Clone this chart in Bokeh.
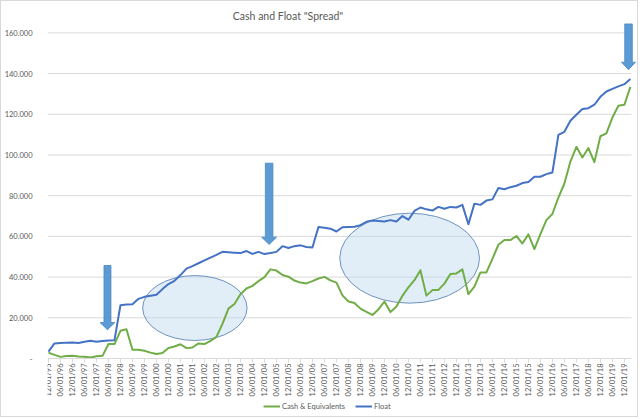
from math import pi
from bokeh.plotting import figure
from bokeh.models import Range1d, FixedTicker, LinearAxis, Legend, LegendItem, Label
from bokeh.embed import file_html
from bokeh.resources import INLINE

# ---- categories: quarterly dates from 12/01/95 to 03/01/20 ----
CATEGORIES = []
for k in range(98):
    mi = 11 + 3 * k
    CATEGORIES.append(f"{mi % 12 + 1:02d}/01/{(1995 + mi // 12) % 100:02d}")
X_IDX = list(range(len(CATEGORIES)))
LABEL_IDX = list(range(0, 97, 2))  # every other category is labelled

# ---- series (millions) ----
CASH = [2900, 1800, 800, 1200, 1400, 1000, 900, 500, 1100, 1300,
        7100, 7100, 13600, 14400, 4300, 4300, 3800, 2900, 2200, 2700,
        5200, 5900, 7000, 5100, 5400, 7400, 7100, 8700, 10600, 17000,
        24500, 26800, 31600, 34400, 35700, 38000, 40000, 43800, 43200, 41000,
        40200, 38300, 37300, 36900, 38000, 39300, 40100, 38400, 37300, 31000,
        28000, 27300, 24500, 22900, 21400, 24100, 28000, 22800, 25600, 30800,
        35000, 38500, 43400, 30900, 33600, 33700, 36800, 41500, 41800, 43800,
        31600, 35300, 42300, 42300, 49000, 55900, 58200, 58200, 60200, 56500,
        61000, 53800, 61100, 68000, 71000, 79100, 86000, 96800, 104000, 98800,
        103400, 96500, 109200, 110600, 118400, 124200, 124700, 133500]
FLOAT = [3400, 7400, 7600, 7800, 7900, 7600, 8200, 8700, 8200, 8600,
         8900, 9000, 26200, 26500, 26700, 29300, 30300, 30800, 31300, 34100,
         36600, 38200, 41000, 44200, 45400, 46800, 48200, 49600, 50900, 52400,
         52200, 52000, 51800, 52800, 51400, 52400, 51300, 51800, 52400, 55200,
         54300, 55200, 55600, 54800, 54500, 64600, 64200, 63800, 62400, 64500,
         64600, 64700, 65500, 67200, 67800, 67600, 67300, 68000, 67300, 70000,
         68200, 72500, 74200, 73300, 72700, 74500, 73600, 74500, 74200, 75500,
         66000, 76100, 75500, 77600, 78200, 83800, 83200, 84200, 84900, 86200,
         86700, 89300, 89300, 90600, 91400, 109900, 111400, 116800, 119800, 122600,
         123000, 124700, 128600, 131200, 132500, 133700, 134800, 137300]
Y_TICKS = [0, 20000, 40000, 60000, 80000, 100000, 120000, 140000, 160000]
Y_LABELS = ["-", "20.000", "40.000", "60.000", "80.000", "100.000", "120.000", "140.000", "160.000"]

# ---- annotations (data units) ----
ELL_X = [24.4, 60.2]
ELL_Y = [24800, 49300]
ELL_W = [17.4, 23.3]
ELL_H = [31900, 44200]
# down arrows: centre x, shaft half width, head half width, top, head base, tip
ARROWS = [(9.83, 0.58, 1.24, 45700, 17700, 14100),
          (36.78, 0.63, 1.24, 95970, 59600, 56000),
          (96.69, 0.63, 1.16, 164400, 145600, 141900)]

TXT = "#595959"
GRID = "#d9d9d9"
FONT = "Lato"

X0, X1 = -0.165, 98.02
p = figure(width=638, height=417, output_backend="svg", toolbar_location=None,
           x_range=Range1d(X0, X1), y_range=Range1d(-29484, 175430),
           x_axis_location=None, y_axis_location=None,
           min_border_left=41, min_border_right=3, min_border_top=0, min_border_bottom=0)
p.xgrid.grid_line_color = None
p.ygrid.grid_line_color = None
p.outline_line_color = None
p.background_fill_color = "white"
p.border_fill_color = "white"
p.styles = {"border": "1px solid #d9d9d9"}

x_end = 97.19
# horizontal gridlines
gy = Y_TICKS[1:]
p.segment(x0=[X0] * len(gy), x1=[x_end] * len(gy), y0=gy, y1=gy, line_color=GRID, line_width=1)

# ellipses
p.ellipse(x=ELL_X, y=ELL_Y, width=ELL_W, height=ELL_H, fill_color="#bdd7ee", fill_alpha=0.45,
          line_color="#6f93be", line_width=1)

g = p.line(X_IDX, CASH, line_color="#70ad47", line_width=2, line_join="round")
b = p.line(X_IDX, FLOAT, line_color="#4472c4", line_width=2, line_join="round")

# arrows
xs, ys = [], []
for cx, sw, hw, top, hb, tip in ARROWS:
    xs.append([cx - sw, cx + sw, cx + sw, cx + hw, cx, cx - hw, cx - sw])
    ys.append([top, top, hb, hb, tip, hb, hb])
p.patches(xs, ys, fill_color="#5b9bd5", line_color="#4a86bf", line_width=0.8)

# axes
xaxis = LinearAxis(ticker=FixedTicker(ticks=LABEL_IDX),
                   major_label_overrides={i: CATEGORIES[i] for i in LABEL_IDX},
                   bounds=(X0, x_end), fixed_location=0)
xaxis.major_label_orientation = pi / 2
xaxis.axis_line_color = GRID
xaxis.major_tick_line_color = GRID
xaxis.major_tick_in = 0
xaxis.major_tick_out = 4
xaxis.minor_tick_line_color = None
xaxis.major_label_standoff = 1
xaxis.major_label_text_font = FONT
xaxis.major_label_text_font_size = "7.5px"
xaxis.major_label_text_color = TXT
p.add_layout(xaxis, "below")

yaxis = LinearAxis(ticker=FixedTicker(ticks=Y_TICKS),
                   major_label_overrides={t: l for t, l in zip(Y_TICKS, Y_LABELS)})
yaxis.axis_line_color = None
yaxis.major_tick_line_color = None
yaxis.minor_tick_line_color = None
yaxis.major_label_standoff = 9
yaxis.major_label_text_font = FONT
yaxis.major_label_text_font_size = "7.5px"
yaxis.major_label_text_color = TXT
p.add_layout(yaxis, "left")

legend = Legend(items=[LegendItem(label="Cash & Equivalents", renderers=[g]),
                       LegendItem(label="Float", renderers=[b])],
                orientation="horizontal", location=(216, 6),
                padding=0, margin=0, spacing=10, glyph_width=17, glyph_height=12,
                label_height=12, label_standoff=2,
                label_text_font=FONT, label_text_font_size="7.5px", label_text_color=TXT,
                background_fill_alpha=0, border_line_color=None)
p.add_layout(legend)

title = Label(x=240.5, y=403, x_units="screen", y_units="screen", text='Cash and Float "Spread"',
              text_align="center", text_baseline="middle", text_font=FONT,
              text_font_size="10.5px", text_color=TXT)
p.add_layout(title)

open("out.html", "w").write(file_html(p, INLINE))
